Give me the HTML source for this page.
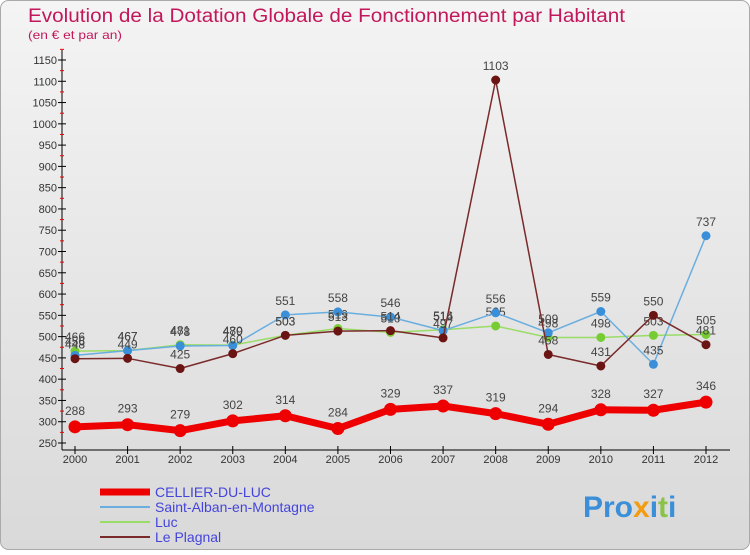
<!DOCTYPE html>
<html><head><meta charset="utf-8"><style>
body{margin:0;width:750px;height:550px;overflow:hidden;font-family:"Liberation Sans",sans-serif;}
</style></head><body>
<svg width="750" height="550" xmlns="http://www.w3.org/2000/svg">
<defs>
<linearGradient id="bg" x1="0" y1="0" x2="0" y2="1"><stop offset="0" stop-color="#f4f4f4"/><stop offset="1" stop-color="#d9d9d9"/></linearGradient>
</defs>
<rect x="0.5" y="0.5" width="749" height="549" rx="8" fill="url(#bg)" stroke="#aaa"/>
<text x="28" y="22" font-size="19" fill="#c2185b" textLength="597" lengthAdjust="spacingAndGlyphs">Evolution de la Dotation Globale de Fonctionnement par Habitant</text>
<text x="28" y="39" font-size="12" fill="#c2185b" textLength="94" lengthAdjust="spacingAndGlyphs">(en € et par an)</text>
<g id="axes"></g>
<g id="series"></g>
<g id="legend"></g>
<text x="583" y="517" font-size="30" font-weight="bold" fill="#3a8fd8">Pro<tspan fill="#f39c12">x</tspan>i<tspan fill="#8bc34a">t</tspan>i</text>
</svg>
<script>
const years=["2000","2001","2002","2003","2004","2005","2006","2007","2008","2009","2010","2011","2012"];
const cellier=[288,293,279,302,314,284,329,337,319,294,328,327,346];
const stAlban=[456,467,478,479,551,558,546,514,556,509,559,435,737];
const luc=[466,467,481,480,503,519,510,516,525,498,498,503,505];
const plagnal=[448,449,425,460,503,513,514,497,1103,458,431,550,481];
const yTicks=[250,300,350,400,450,500,550,600,650,700,750,800,850,900,950,1000,1050,1100,1150];
const NS="http://www.w3.org/2000/svg";
const X=i=>75+i*(706-75)/12;
const Y=v=>443-(v-250)*(443-60)/900;
function mk(t,a,p){const e=document.createElementNS(NS,t);for(const k in a)e.setAttribute(k,a[k]);p.appendChild(e);return e;}
const ax=document.getElementById('axes');
const yl=mk('line',{x1:62,y1:50,x2:62,y2:450,stroke:'#000'},ax);


const xl=mk('line',{x1:62,y1:450,x2:730,y2:450,stroke:'#000'},ax);


yTicks.forEach(v=>{
 mk('line',{x1:58,x2:66,y1:Y(v),y2:Y(v),stroke:'#000'},ax);
 mk('line',{x1:60,x2:64,y1:Y(v+25),y2:Y(v+25),stroke:'#e00'},ax);
 const t=mk('text',{x:57,y:Y(v)+4,'font-size':11,'text-anchor':'end',fill:'#333'},ax);t.textContent=v;
 
 
});
years.forEach((y,i)=>{
 mk('line',{x1:X(i),x2:X(i),y1:446,y2:454,stroke:'#000'},ax);
 const t=mk('text',{x:X(i),y:463,'font-size':11,'text-anchor':'middle',fill:'#333'},ax);t.textContent=y;
 
 
});
const sg=document.getElementById('series');
function series(data,color,w,r,name,dotColor,lblOff){
 const g=mk('g',{},sg);
 
 
 mk('polyline',{points:data.map((v,i)=>X(i)+','+Y(v)).join(' '),fill:'none',stroke:color,'stroke-width':w,'stroke-linejoin':'round'},g);
 data.forEach((v,i)=>{
  const c=mk('circle',{cx:X(i),cy:Y(v),r:r,fill:dotColor,stroke:dotColor},g);
  
  
  const t=mk('text',{x:X(i),y:Y(v)+lblOff,'font-size':12,'text-anchor':'middle',fill:'#444'},g);t.textContent=v;
 });
}
series(luc,'#99dd66',1.5,4,'luc-series','#77cc33',-10);
series(stAlban,'#6aaee0',1.5,4,'saint-alban-series','#3a8fd8',-10);
series(plagnal,'#7a2a2a',1.5,4,'le-plagnal-series','#6b1414',-10);
series(cellier,'#ee0000',7,6,'cellier-series','#ee0000',-12);
const lg=document.getElementById('legend');
const items=[["CELLIER-DU-LUC","#ee0000",7],["Saint-Alban-en-Montagne","#6aaee0",2],["Luc","#99dd66",2],["Le Plagnal","#7a2a2a",2]];
items.forEach((it,i)=>{
 const y=492+i*15;
 const g=mk('g',{},lg);
 
 
 mk('line',{x1:100,x2:150,y1:y,y2:y,stroke:it[1],'stroke-width':it[2]},g);
 const t=mk('text',{x:155,y:y+5,'font-size':14,fill:'#4444dd'},g);t.textContent=it[0];
});
</script>
</body></html>
